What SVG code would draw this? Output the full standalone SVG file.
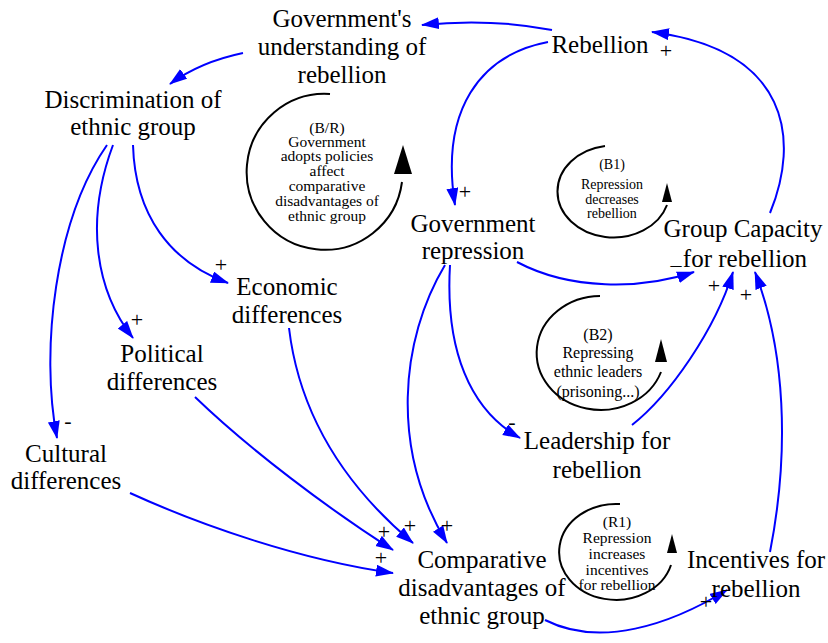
<svg xmlns="http://www.w3.org/2000/svg" width="828" height="643" viewBox="0 0 828 643">
<style>
.n{font-family:"Liberation Serif","Times New Roman",serif;font-size:25px;fill:#000;text-anchor:middle}
.s{font-family:"Liberation Serif","Times New Roman",serif;font-size:22px;fill:#000;text-anchor:middle}
.l{font-family:"Liberation Serif","Times New Roman",serif;fill:#000;text-anchor:middle}
.c{fill:none;stroke:#0000ff;stroke-width:2;marker-end:url(#a)}
.loop{fill:none;stroke:#000;stroke-width:2}
</style>
<defs>
<marker id="a" markerUnits="userSpaceOnUse" markerWidth="20" markerHeight="14" refX="17" refY="6" orient="auto">
<path d="M0,0 L18,6 L0,12 z" fill="#0000ff"/>
</marker>
</defs>
<rect width="828" height="643" fill="#fff"/>
<g id="connectors">
<path class="c" d="M552,30 Q490,18 422,25"/>
<path class="c" d="M243,53 Q200,62 170,84"/>
<path class="c" d="M548,42 C480,55 440,110 455,205"/>
<path class="c" d="M770,213 C800,140 790,50 652,32"/>
<path class="c" d="M517,262 C570,290 640,290 694,272"/>
<path class="c" d="M632,425 C670,395 715,330 733,272"/>
<path class="c" d="M770,552 C790,450 785,350 755,272"/>
<path class="c" d="M133,145 C135,215 170,262 228,283"/>
<path class="c" d="M113,145 C85,220 95,290 133,338"/>
<path class="c" d="M107,145 C55,220 40,350 57,438"/>
<path class="c" d="M289,328 C300,420 350,490 413,543"/>
<path class="c" d="M195,397 C250,450 330,510 393,550"/>
<path class="c" d="M130,493 C200,525 300,560 393,573"/>
<path class="c" d="M445,265 C400,340 390,450 447,543"/>
<path class="c" d="M450,265 C445,350 470,410 520,438"/>
<path class="c" d="M545,620 C600,648 670,625 727,590"/>
</g>
<g id="signs">
<text class="s" x="666" y="58">+</text>
<text class="s" x="465" y="199">+</text>
<text class="s" x="221" y="272">+</text>
<text class="s" x="137" y="327">+</text>
<text class="s" x="68" y="428">-</text>
<text class="s" x="512" y="429">-</text>
<text class="s" x="676" y="264">_</text>
<text class="s" x="714" y="293">+</text>
<text class="s" x="746" y="302">+</text>
<text class="s" x="384" y="539">+</text>
<text class="s" x="410" y="533">+</text>
<text class="s" x="447" y="533">+</text>
<text class="s" x="381" y="565">+</text>
<text class="s" x="706" y="609">+</text>
</g>
<g id="loop-BR">
<path class="loop" d="M330,94 A78,78 0 1 0 402,182"/>
<polygon points="394,174 412,174 403,145" fill="#000"/>
<text class="l" font-size="15.5" x="327" y="133">(B/R)</text>
<text class="l" font-size="15.5" x="327" y="147">Government</text>
<text class="l" font-size="15.5" x="327" y="161">adopts policies</text>
<text class="l" font-size="15.5" x="327" y="176">affect</text>
<text class="l" font-size="15.5" x="327" y="191">comparative</text>
<text class="l" font-size="15.5" x="327" y="206">disadvantages of</text>
<text class="l" font-size="15.5" x="327" y="221">ethnic group</text>
</g>
<g id="loop-B1">
<path class="loop" d="M605,146 A56,46 0 1 0 667,205"/>
<polygon points="662,202 672,202 667,183" fill="#000"/>
<text class="l" font-size="14" x="612" y="169">(B1)</text>
<text class="l" font-size="14" x="612" y="189">Repression</text>
<text class="l" font-size="14" x="612" y="204">decreases</text>
<text class="l" font-size="14" x="612" y="218">rebellion</text>
</g>
<g id="loop-B2">
<path class="loop" d="M600,296 A64,57 0 1 0 661,372"/>
<polygon points="655,362 667,362 661,339" fill="#000"/>
<text class="l" font-size="16" x="598" y="340">(B2)</text>
<text class="l" font-size="16" x="598" y="358">Repressing</text>
<text class="l" font-size="16" x="598" y="377">ethnic leaders</text>
<text class="l" font-size="16" x="598" y="397">(prisoning...)</text>
</g>
<g id="loop-R1">
<path class="loop" d="M620,504 A57,48 0 1 0 671,565"/>
<polygon points="667,553 677,553 672,534" fill="#000"/>
<text class="l" font-size="15.5" x="617" y="527">(R1)</text>
<text class="l" font-size="15.5" x="617" y="543">Repression</text>
<text class="l" font-size="15.5" x="617" y="559">increases</text>
<text class="l" font-size="15.5" x="617" y="575">incentives</text>
<text class="l" font-size="15.5" x="617" y="590">for rebellion</text>
</g>
<g id="gov-understanding">
<text class="n" x="342" y="27">Government's</text>
<text class="n" x="342" y="55">understanding of</text>
<text class="n" x="342" y="83">rebellion</text>
</g>
<g id="rebellion">
<text class="n" x="600" y="53">Rebellion</text>
</g>
<g id="discrimination">
<text class="n" x="133" y="108">Discrimination of</text>
<text class="n" x="133" y="135">ethnic group</text>
</g>
<g id="gov-repression">
<text class="n" x="473" y="232">Government</text>
<text class="n" x="473" y="259">repression</text>
</g>
<g id="group-capacity">
<text class="n" x="743" y="237">Group Capacity</text>
<text class="n" x="745" y="267">for rebellion</text>
</g>
<g id="economic">
<text class="n" x="287" y="295">Economic</text>
<text class="n" x="287" y="323">differences</text>
</g>
<g id="political">
<text class="n" x="162" y="362">Political</text>
<text class="n" x="162" y="390">differences</text>
</g>
<g id="cultural">
<text class="n" x="66" y="462">Cultural</text>
<text class="n" x="66" y="489">differences</text>
</g>
<g id="leadership">
<text class="n" x="597" y="449">Leadership for</text>
<text class="n" x="597" y="478">rebellion</text>
</g>
<g id="comparative">
<text class="n" x="482" y="568">Comparative</text>
<text class="n" x="482" y="596">disadvantages of</text>
<text class="n" x="482" y="624">ethnic group</text>
</g>
<g id="incentives">
<text class="n" x="756" y="568">Incentives for</text>
<text class="n" x="756" y="597">rebellion</text>
</g>
</svg>
